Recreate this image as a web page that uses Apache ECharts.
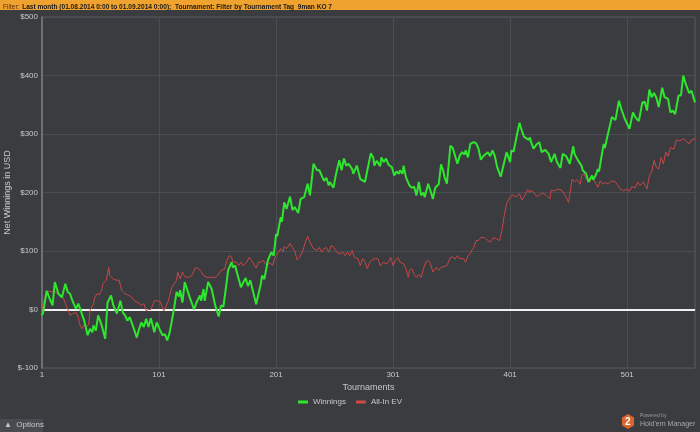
<!DOCTYPE html>
<html>
<head>
<meta charset="utf-8">
<script src="https://cdn.jsdelivr.net/npm/echarts@6/dist/echarts.min.js"></script>
<style>
  html, body { margin: 0; padding: 0; background: #3a3c40; }
  #chart { width: 700px; height: 432px; }
</style>
</head>
<body>
<div id="chart"></div>
<script>
// ---- data (tournament number, value in USD) ----
const winT = [1,2,5,7,10,12,15,16,18,21,23,25,27,30,32,35,37,38,40,42,44,45,47,49,52,55,57,60,62,65,68,70,72,74,76,79,82,84,86,88,90,92,94,97,99,102,104,106,108,110,112,114,116,118,119,121,123,127,131,133,136,137,139,140,143,146,149,152,154,156,159,160,163,164,166,171,175,177,179,184,188,189,191,194,197,199,201,202,205,206,208,210,213,215,217,220,222,225,228,230,233,236,238,242,244,246,247,250,252,255,257,259,261,263,266,267,270,273,274,277,279,282,284,285,287,290,291,293,295,297,300,302,304,306,307,309,310,312,315,317,319,321,323,325,327,328,331,333,335,337,340,342,344,345,347,350,352,356,358,360,362,363,365,367,370,372,374,376,378,382,384,386,388,390,393,396,398,401,402,404,407,409,411,413,414,417,418,419,421,424,426,428,431,434,436,439,441,444,446,449,452,455,456,459,462,463,466,468,471,472,474,476,477,479,481,482,484,485,488,489,491,494,496,499,503,506,508,511,514,516,518,520,522,524,526,528,531,533,536,538,540,542,545,547,549,551,554,556,559];
const winV = [-10,-5,32,21,7,47,27,30,21,44,30,27,15,1,10,-7,-19,-27,-44,-33,-39,-27,-36,-10,-27,-50,12,24,7,-7,15,-5,-10,-19,-13,-30,-48,-33,-22,-30,-16,-30,-15,-39,-22,-36,-44,-42,-53,-40,-19,4,30,22,33,12,47,22,0,12,24,15,35,15,47,35,7,-12,7,5,50,67,81,72,75,38,54,40,50,9,44,58,52,84,98,92,129,125,158,150,183,172,193,170,175,165,189,192,215,195,249,238,238,220,225,212,218,208,229,255,238,258,246,249,240,232,246,223,220,218,238,267,260,246,254,245,260,252,258,248,243,229,236,232,238,232,246,226,212,208,210,195,218,195,200,192,215,203,189,208,214,248,236,226,215,280,276,249,263,269,265,272,260,283,286,284,275,256,262,269,262,272,262,243,227,252,269,252,272,270,300,319,306,295,298,290,294,286,275,283,286,269,273,266,252,266,252,242,266,262,249,279,266,255,246,238,232,218,229,222,229,240,236,260,283,276,295,293,329,326,324,357,343,326,309,337,329,322,354,355,340,376,363,370,362,346,379,363,360,337,340,334,366,366,400,386,370,374,354];
const evT = [1,2,5,8,12,15,17,19,21,23,25,27,30,32,33,35,37,39,41,42,45,46,48,50,52,53,56,58,59,62,65,67,69,72,74,77,80,83,86,88,90,92,94,96,97,99,102,103,105,107,109,110,112,114,116,117,119,121,123,126,129,130,132,134,137,139,142,144,149,151,154,157,159,161,163,164,167,169,171,173,176,178,180,184,186,188,190,191,193,196,198,200,203,205,207,208,210,213,215,217,219,221,224,226,228,230,233,236,238,240,242,244,246,248,250,253,255,258,260,262,264,266,268,271,273,274,275,277,279,281,284,286,288,290,293,295,297,299,301,303,305,307,310,312,314,315,317,319,321,323,325,327,329,331,333,335,338,340,342,344,347,350,352,354,356,358,361,363,365,367,368,370,372,374,376,379,380,384,387,390,392,394,396,398,400,402,404,406,409,411,413,416,418,419,421,424,427,429,432,435,436,439,442,445,448,451,454,456,458,461,462,464,466,469,471,473,476,478,480,482,485,488,491,493,495,498,501,503,505,508,510,512,515,518,520,522,524,526,528,530,532,534,536,538,541,543,546,549,551,554,556,559];
const evV = [-2,10,30,31,30,27,21,21,10,1,-10,-7,-5,-13,-24,-33,-26,-30,-25,-2,10,20,27,25,33,44,50,72,58,52,50,50,33,27,25,22,15,12,7,10,-2,0,0,10,15,15,13,10,-2,5,15,24,38,44,50,64,52,64,56,55,58,58,71,71,65,58,55,55,55,58,67,69,84,92,90,81,81,75,81,75,81,89,84,71,81,81,84,87,75,80,75,89,98,104,98,108,104,113,106,100,85,89,101,115,125,115,104,101,106,98,104,106,98,109,107,98,95,98,92,98,92,101,89,87,75,81,87,81,70,81,86,87,87,75,81,78,81,89,75,84,89,81,78,70,55,67,70,60,55,60,55,70,81,84,78,64,72,67,72,73,75,89,90,86,92,87,87,81,92,95,101,106,118,118,123,123,120,115,123,120,118,135,161,181,189,194,196,192,198,187,193,205,200,204,200,193,197,199,195,189,204,203,206,204,195,183,223,218,222,214,229,232,223,218,226,220,209,220,214,217,215,220,218,212,206,203,206,202,210,208,218,212,218,206,229,235,255,243,240,260,249,269,262,277,274,290,288,292,289,283,290,292];
const seriesNames = ['Winnings', 'All-In EV'];
const xTickMin = 1, xTickMax = 559, xTickStep = 100;
const yTickMin = -100, yTickMax = 500, yTickStep = 100;
const filterText = 'Last month (01.08.2014 0:00 to 01.09.2014 0:00);  Tournament: Filter by Tournament Tag  9man KO 7';

const zip = (a, b) => a.map((t, i) => [t, b[i]]);

const chart = echarts.init(document.getElementById('chart'), null, { renderer: 'canvas' });
const FONT = 'Liberation Sans, Arial, sans-serif';
const axisText = { color: '#c8c8c8', fontSize: 8, fontFamily: FONT };

chart.setOption({
  backgroundColor: '#3a3c40',
  animation: false,
  grid: { left: 42, right: 5, top: 17, bottom: 64, containLabel: false, outerBoundsMode: 'none',
          show: true, borderColor: '#55585c', borderWidth: 1 },
  legend: {
    bottom: 21, left: 'center',
    itemWidth: 10, itemHeight: 3, itemGap: 10,
    icon: 'rect',
    textStyle: { color: '#c8c8c8', fontSize: 8, fontFamily: FONT },
    data: seriesNames
  },
  xAxis: {
    type: 'value', min: xTickMin, max: xTickMax, interval: xTickStep,
    name: 'Tournaments', nameLocation: 'middle', nameGap: 15, nameMoveOverlap: false,
    nameTextStyle: { color: '#c8c8c8', fontSize: 9, fontFamily: FONT },
    axisLine: { show: true, lineStyle: { color: '#6a6d70', width: 1 } },
    axisTick: { show: false },
    axisLabel: Object.assign({ margin: 3, showMaxLabel: false }, axisText),
    splitLine: { show: true, lineStyle: { color: '#4a4d51', width: 1 } }
  },
  yAxis: {
    type: 'value', min: yTickMin, max: yTickMax, interval: yTickStep,
    name: 'Net Winnings in USD', nameLocation: 'middle', nameGap: 30, nameRotate: 90, nameMoveOverlap: false,
    nameTextStyle: { color: '#c8c8c8', fontSize: 9, fontFamily: FONT },
    axisLine: { show: true, lineStyle: { color: '#7a7d80', width: 1.5 } },
    axisTick: { show: false },
    axisLabel: Object.assign({ margin: 4, formatter: v => '$' + v }, axisText),
    splitLine: { show: true, lineStyle: { color: '#4a4d51', width: 1 } }
  },
  series: [
    {
      name: seriesNames[0], type: 'line', data: zip(winT, winV),
      showSymbol: false, symbol: 'none', z: 4,
      itemStyle: { color: '#2ee62e' },
      lineStyle: { color: '#2ee62e', width: 2 }
    },
    {
      name: seriesNames[1], type: 'line', data: zip(evT, evV),
      showSymbol: false, symbol: 'none', z: 3,
      itemStyle: { color: '#d04848' },
      lineStyle: { color: '#c84646', width: 1 },
      markLine: {
        silent: true, symbol: 'none', label: { show: false },
        lineStyle: { color: '#f0f0f0', width: 2, type: 'solid' },
        data: [{ yAxis: 0 }], z: 2
      }
    }
  ],
  graphic: [
    { type: 'rect', left: 0, top: 0, shape: { width: 700, height: 10 }, style: { fill: '#f0a22e' }, z: 10 },
    { type: 'text', x: 3, y: 1, scaleX: 0.82, z: 11,
      style: {
        text: '{a|Filter:} {b|' + filterText + '}',
        rich: {
          a: { fill: '#5a2a10', fontSize: 8, fontFamily: FONT },
          b: { fill: '#1a1a1a', fontSize: 8, fontWeight: 'bold', fontFamily: FONT }
        }
      }
    },
    { type: 'rect', left: 0, top: 419, shape: { width: 43, height: 13 }, style: { fill: '#484b4f' }, z: 10 },
    { type: 'text', left: 4, top: 421, z: 11,
      style: { text: '\u25B2  Options', fill: '#c8c8c8', fontSize: 8, fontFamily: FONT } },
    { type: 'polygon', z: 10,
      shape: { points: [[628, 414], [634, 417.5], [634, 425.5], [628, 429], [622, 425.5], [622, 417.5]] },
      style: { fill: '#d9662a' } },
    { type: 'text', left: 625, top: 417, z: 11,
      style: { text: '2', fill: '#ffffff', fontSize: 10, fontWeight: 'bold', fontFamily: FONT } },
    { type: 'text', x: 640, y: 413, z: 11,
      style: { text: 'Powered by', fill: '#9a9a9a', fontSize: 5, fontFamily: FONT } },
    { type: 'text', x: 640, y: 420, scaleX: 0.88, z: 11,
      style: { text: "Hold'em Manager", fill: '#a8a8a8', fontSize: 8, fontFamily: FONT } }
  ]
});
</script>
</body>
</html>
